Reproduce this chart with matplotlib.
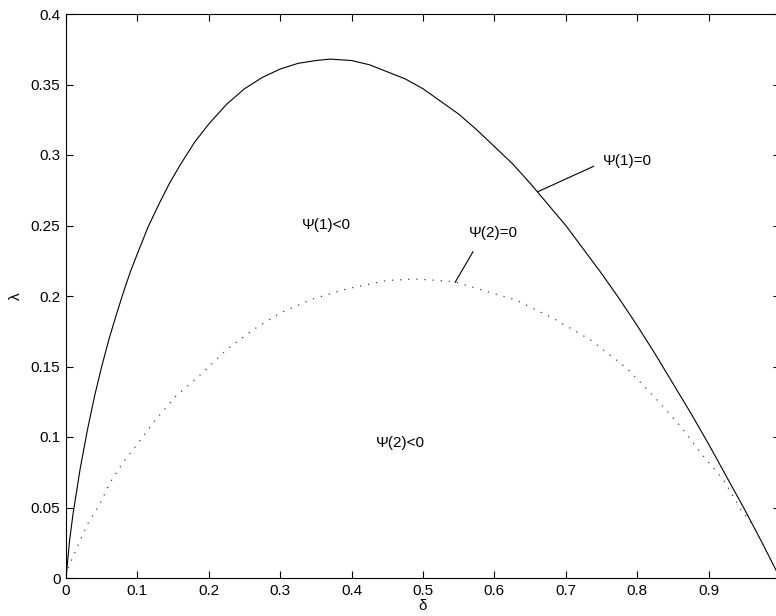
import matplotlib
matplotlib.use('Agg')
import matplotlib.pyplot as plt

plt.rcParams['font.family'] = ['Liberation Sans', 'DejaVu Sans']

### Data
# solid curve: Psi(1)=0
delta_1 = [0, 0.005, 0.01, 0.02, 0.03, 0.04, 0.05, 0.06, 0.07, 0.08, 0.09, 0.1, 0.115,
           0.13, 0.145, 0.16, 0.18, 0.2, 0.225, 0.25, 0.275, 0.3, 0.325, 0.35, 0.37,
           0.4, 0.425, 0.45, 0.475, 0.5, 0.525, 0.55, 0.575, 0.6, 0.625, 0.65, 0.675,
           0.7, 0.725, 0.75, 0.775, 0.8, 0.825, 0.85, 0.875, 0.9, 0.925, 0.95, 0.975, 1.0]
lambda_1 = [0, 0.0265, 0.046, 0.078, 0.105, 0.129, 0.150, 0.169, 0.186, 0.202, 0.217,
            0.230, 0.249, 0.265, 0.280, 0.293, 0.309, 0.322, 0.336, 0.347, 0.355, 0.361,
            0.365, 0.367, 0.368, 0.367, 0.364, 0.359, 0.354, 0.347, 0.338, 0.329, 0.318,
            0.306, 0.294, 0.280, 0.265, 0.250, 0.233, 0.216, 0.198, 0.179, 0.159, 0.138,
            0.117, 0.095, 0.072, 0.049, 0.025, 0]

# dotted curve: Psi(2)=0
delta_2 = [0.003, 0.02, 0.031, 0.048, 0.062, 0.08, 0.1, 0.125, 0.154, 0.188, 0.225, 0.262,
           0.300, 0.346, 0.393, 0.449, 0.49, 0.524, 0.545, 0.584, 0.631, 0.683, 0.734,
           0.785, 0.823, 0.86, 0.89, 0.921, 0.946, 0.96, 0.98, 1.0]
lambda_2 = [0.007, 0.027, 0.039, 0.053, 0.068, 0.082, 0.095, 0.112, 0.129, 0.144, 0.162,
            0.176, 0.188, 0.198, 0.205, 0.211, 0.212, 0.211, 0.210, 0.204, 0.197, 0.184,
            0.169, 0.149, 0.129, 0.108, 0.088, 0.0695, 0.048, 0.039, 0.020, 0]

x_ticks = [0, 0.1, 0.2, 0.3, 0.4, 0.5, 0.6, 0.7, 0.8, 0.9, 1.0]
x_ticklabels = ['0', '0.1', '0.2', '0.3', '0.4', '0.5', '0.6', '0.7', '0.8', '0.9', '']
y_ticks = [0, 0.05, 0.1, 0.15, 0.2, 0.25, 0.3, 0.35, 0.4]
y_ticklabels = ['0', '0.05', '0.1', '0.15', '0.2', '0.25', '0.3', '0.35', '0.4']

# region labels and pointer lines (text, x, y)
labels = [('Ψ(1)=0', 0.786, 0.296), ('Ψ(1)<0', 0.365, 0.250),
          ('Ψ(2)=0', 0.599, 0.2445), ('Ψ(2)<0', 0.468, 0.096)]
pointer_1 = ([0.739, 0.661], [0.292, 0.274])
pointer_2 = ([0.570, 0.545], [0.2314, 0.2097])

### Plot
fig = plt.figure(figsize=(7.76, 6.16), dpi=100)
ax = fig.add_axes([66 / 776, 38 / 616, 714 / 776, 564 / 616])

ax.plot(delta_1, lambda_1, color='black', lw=0.8)
ax.plot(delta_2, lambda_2, color='0.25', lw=0.9, linestyle=(0, (1, 5.5)))

for txt, x, y in labels:
    ax.text(x, y, txt, fontsize=11, ha='center', va='center')
ax.plot(*pointer_1, color='black', lw=0.8)
ax.plot(*pointer_2, color='black', lw=0.8)

ax.set_xlim(0, 1)
ax.set_ylim(0, 0.4)
ax.set_xticks(x_ticks)
ax.set_xticklabels(x_ticklabels)
ax.set_yticks(y_ticks)
ax.set_yticklabels(y_ticklabels)
ax.tick_params(direction='in', length=5, width=0.8, top=True, right=True,
               labelsize=11, pad=4)
for sp in ax.spines.values():
    sp.set_linewidth(0.8)

ax.set_xlabel('δ', fontsize=11, labelpad=1)
ax.set_ylabel('λ', fontsize=11, labelpad=6)

fig.savefig('out.png', dpi=100)
